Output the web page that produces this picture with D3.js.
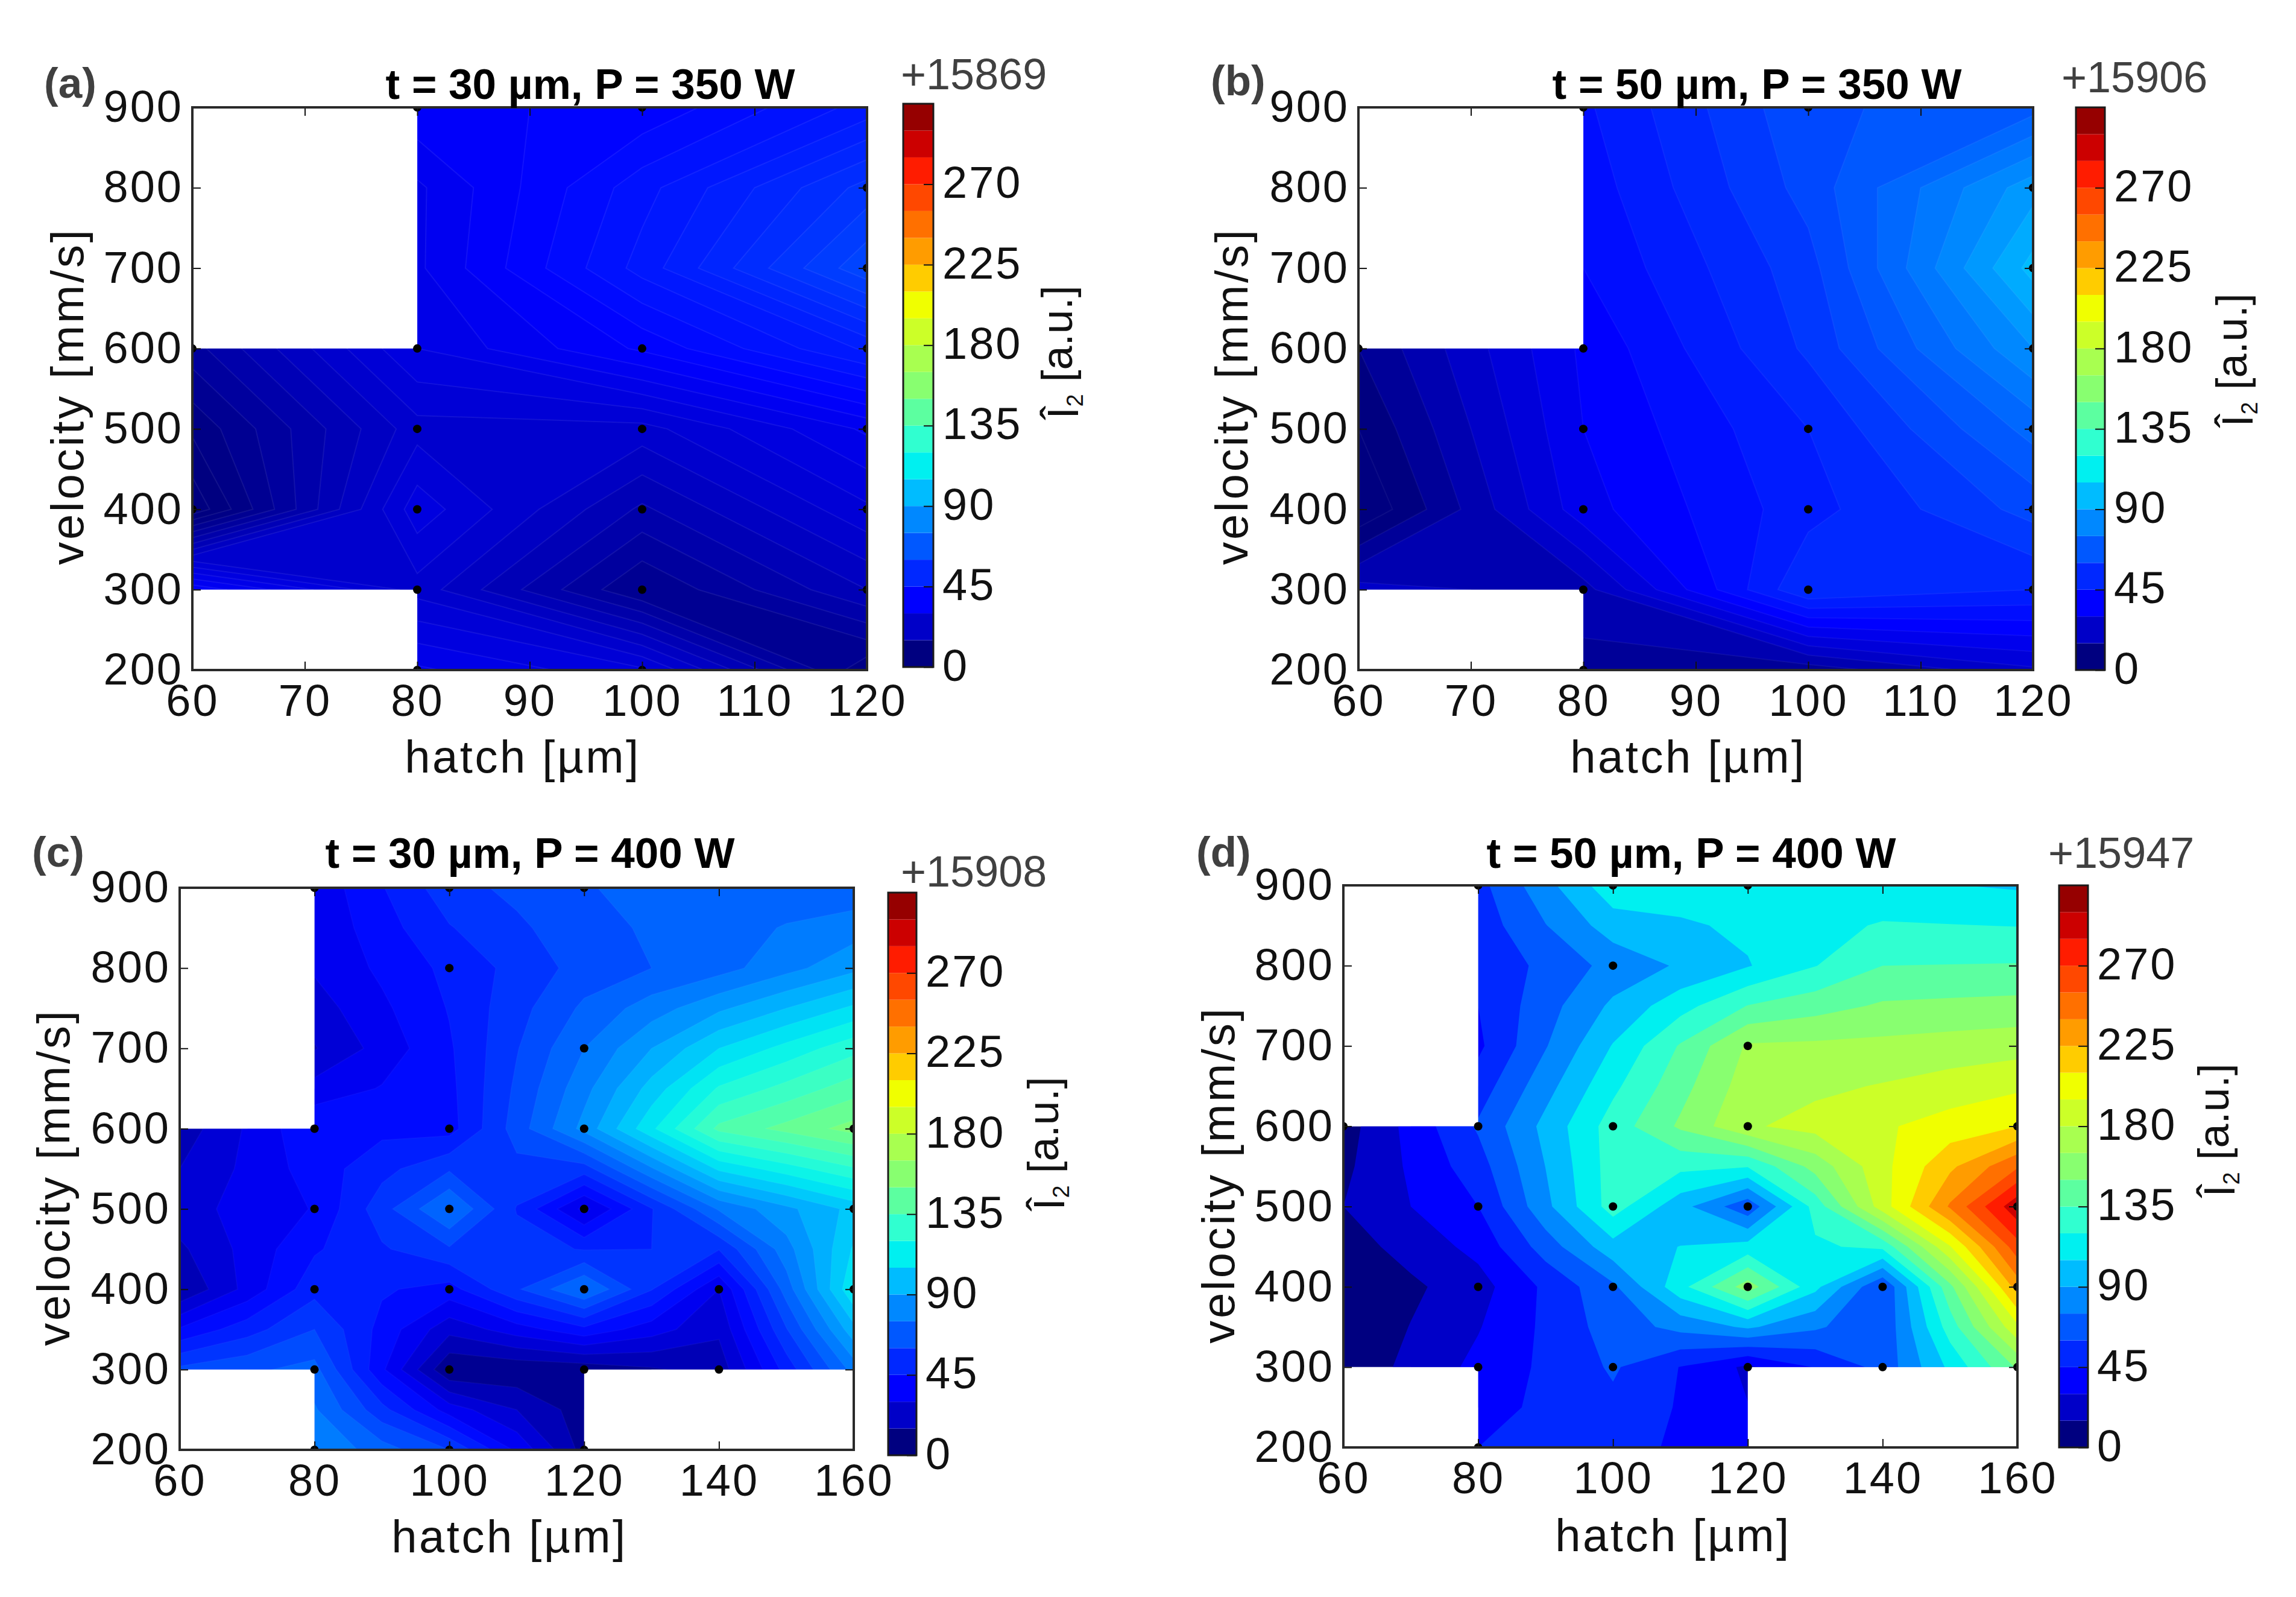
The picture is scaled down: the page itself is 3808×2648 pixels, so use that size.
<!DOCTYPE html>
<html>
<head>
<meta charset="utf-8">
<title>I2 contour maps</title>
<script src="https://cdn.jsdelivr.net/npm/d3@7"></script>
<style>
  html, body { margin: 0; background: #fff; }
  text { font-family: "Liberation Sans", Arial, sans-serif; }
</style>
</head>
<body>
<svg id="chart" width="3808" height="2648"></svg>
<script>
// --- Data ---
const velocities = [200, 300, 400, 500, 600, 700, 800, 900];
const hatchShort = [60, 80, 100, 120];
const hatchLong = [60, 80, 100, 120, 140, 160];

const xTicksShort = [60, 70, 80, 90, 100, 110, 120];
const xTicksLong = [60, 80, 100, 120, 140, 160];
const cbTicks = [0, 45, 90, 135, 180, 225, 270];

// rows go from 200 to 900 mm/s, columns follow the hatch list
const gridA = [
  [NaN, 33, 28, 8],
  [37, 24, 10, 20],
  [3, 29, 17, 27],
  [8, 24, 24, 33],
  [14, 30, 38, 48],
  [NaN, 32, 46, 62],
  [NaN, 32, 44, 56],
  [NaN, 37, 38, 46]
];
const gridB = [
  [NaN, 13, 12, 24],
  [22, 18, 55, 50],
  [0, 33, 48, 62],
  [5, 35, 50, 72],
  [10, 36, 56, 85],
  [NaN, 40, 58, 97],
  [NaN, 42, 62, 88],
  [NaN, 44, 64, 68]
];
const gridC = [
  [NaN, 82, 60, 12, NaN, NaN],
  [62, 70, 8, 10, 18, 78],
  [15, 50, 42, 76, 30, 112],
  [27, 38, 76, 28, 76, 100],
  [18, 44, 42, 85, 137, 153],
  [NaN, 22, 44, 75, 105, 125],
  [NaN, 31, 47, 63, 72, 88],
  [NaN, 32, 57, 67, 72, 70]
];
const gridD = [
  [NaN, 45, 51, 34, NaN, NaN],
  [4, 34, 62, 27, 65, 152],
  [0, 24, 72, 158, 60, 232],
  [15, 45, 127, 64, 188, 296],
  [8, 62, 127, 178, 193, 210],
  [NaN, 42, 106, 167, 169, 174],
  [NaN, 48, 80, 104, 135, 136],
  [NaN, 55, 115, 112, 108, 103]
];

// blank parts of the maps: hatch from, hatch to, velocity from, velocity to
const holesShort = [[60, 80, 600, 900], [60, 80, 200, 300]];
const holesLong = [[60, 80, 600, 900], [60, 80, 200, 300], [120, 160, 200, 300]];

// measurement points: hatch, velocity
const pointsA = [[80,900],[100,900],[120,800],[120,700],[120,600],[120,500],[120,400],[120,300],
  [80,600],[100,600],[80,500],[100,500],[80,400],[100,400],[80,300],[100,300],[80,200],[100,200],[60,600],[60,400]];
const pointsB = [[80,900],[100,900],[120,800],[120,700],[120,600],[120,500],[120,400],[120,300],
  [80,600],[80,500],[100,500],[80,400],[100,400],[80,300],[100,300],[80,200],[60,600]];
const pointsC = [[80,900],[100,900],[120,900],[100,800],[120,700],[80,600],[100,600],[120,600],[160,600],
  [80,500],[100,500],[120,500],[160,500],[80,400],[100,400],[120,400],[140,400],[160,400],
  [80,300],[100,300],[120,300],[140,300],[80,200],[100,200],[120,200]];
const pointsD = [[80,900],[100,900],[120,900],[100,800],[120,700],[80,600],[100,600],[120,600],[160,600],
  [80,500],[100,500],[120,500],[160,500],[80,400],[100,400],[120,400],[140,400],[160,400],
  [80,300],[100,300],[120,300],[140,300],[160,300],[80,200],[60,600]];

const panelNames = ["(a)", "(b)", "(c)", "(d)"];
const panelTitles = ["t = 30 µm, P = 350 W", "t = 50 µm, P = 350 W", "t = 30 µm, P = 400 W", "t = 50 µm, P = 400 W"];
const cbOffsets = ["+15869", "+15906", "+15908", "+15947"];

// 21 colorbar bands, 15 units each
const bandStep = 15;
const bandColors = ["#000080", "#0000c8", "#0000ff", "#0028ff", "#0058ff", "#0088ff", "#00bcff",
  "#00f0f0", "#30ffd0", "#5cffa0", "#88ff70", "#a8ff50", "#ccff28", "#f0ff00",
  "#ffcc00", "#ff9c00", "#ff7000", "#ff4800", "#ff1c00", "#cc0000", "#960000"];

// --- Page layout, one entry per panel ---
const layouts = [
  { ax: [319, 1438, 178, 1111], cb: [1498, 1548, 172, 1106], name: [73, 136], title: [979, 138], offset: [1494, 122], xLab: [867, 1254], yLab: [111, 657], cbLab: [1762, 584], step: 2.5, line: 0.07, saddles: false },
  { ax: [2253, 3372, 178, 1111], cb: [3443, 3491, 178, 1111], name: [2008, 132], title: [2914, 138], offset: [3419, 127], xLab: [2800, 1254], yLab: [2042, 657], cbLab: [3710, 597], step: 5, line: 0.05, saddles: false },
  { ax: [298, 1416, 1472, 2404], cb: [1473, 1520, 1480, 2413], name: [53, 1411], title: [879, 1413], offset: [1494, 1444], xLab: [845, 2547], yLab: [88, 1952], cbLab: [1739, 1896], step: 7.5, line: 0.03, saddles: true },
  { ax: [2228, 3346, 1468, 2400], cb: [3415, 3463, 1468, 2400], name: [1984, 1411], title: [2805, 1413], offset: [3397, 1413], xLab: [2775, 2545], yLab: [2020, 1948], cbLab: [3680, 1874], step: 15, line: 0, saddles: true }
];

const svg = d3.select("#chart");

// continuous lookup through the band centres, exact on a band centre
const bandColor = d3.scaleLinear()
  .domain(bandColors.map((c, i) => (i + 0.5) * bandStep))
  .range(bandColors)
  .clamp(true);

// doubles the grid so a cell centre takes the mean of its corners,
// d3.contours would otherwise settle every saddle the same way
function withCellCentres(grid) {
  const out = [];
  for (let r = 0; r < grid.length * 2 - 1; r++) {
    for (let c = 0; c < grid[0].length * 2 - 1; c++) {
      const rows = r % 2 ? [(r - 1) / 2, (r + 1) / 2] : [r / 2];
      const cols = c % 2 ? [(c - 1) / 2, (c + 1) / 2] : [c / 2];
      const corners = rows.flatMap(a => cols.map(b => grid[a][b]));
      out.push(corners.some(isNaN) ? NaN : d3.mean(corners));
    }
  }
  return out;
}

// --- One contour map with its colorbar ---
function drawPanel(i, grid, hatch, xTicks, holes, points) {
  const lay = layouts[i];
  const [x0, x1, y0, y1] = lay.ax;
  const x = d3.scaleLinear().domain([hatch[0], hatch[hatch.length - 1]]).range([x0, x1]);
  const y = d3.scaleLinear().domain([velocities[0], velocities[velocities.length - 1]]).range([y1, y0]);

  const g = svg.append("g");
  const clipId = "clip" + i;
  g.append("clipPath").attr("id", clipId)
    .append("rect")
    .attr("x", x0).attr("y", y0)
    .attr("width", x1 - x0).attr("height", y1 - y0);

  const plot = g.append("g").attr("clip-path", `url(#${clipId})`);

  // d3.contours puts sample k at k + 0.5, so map grid units back through the scales
  const scaleUp = lay.saddles ? 2 : 1;
  const dh = (hatch[1] - hatch[0]) / scaleUp;
  const dv = (velocities[1] - velocities[0]) / scaleUp;
  const path = d3.geoPath(d3.geoTransform({
    point(cx, cy) {
      this.stream.point(x(hatch[0] + (cx - 0.5) * dh), y(velocities[0] + (cy - 0.5) * dv));
    }
  }));

  const levels = d3.range(0, bandStep * bandColors.length, lay.step);
  const values = lay.saddles ? withCellCentres(grid) : grid.flat();
  const contours = d3.contours()
    .size([hatch.length * scaleUp - scaleUp + 1, velocities.length * scaleUp - scaleUp + 1])
    .smooth(true)
    .thresholds(levels)(values);

  plot.selectAll("path.band")
    .data(contours.filter(c => c.coordinates.length))
    .join("path")
    .attr("class", "band")
    .attr("d", path)
    .attr("fill", d => bandColor(d.value + lay.step / 2))
    .attr("stroke", lay.line ? "#fff" : "none")
    .attr("stroke-opacity", lay.line)
    .attr("stroke-width", 2);

  plot.selectAll("rect.hole")
    .data(holes)
    .join("rect")
    .attr("class", "hole")
    .attr("x", d => x(d[0]))
    .attr("y", d => y(d[3]))
    .attr("width", d => x(d[1]) - x(d[0]))
    .attr("height", d => y(d[2]) - y(d[3]))
    .attr("fill", "#fff");

  plot.selectAll("circle")
    .data(points)
    .join("circle")
    .attr("cx", d => x(d[0]))
    .attr("cy", d => y(d[1]))
    .attr("r", 7)
    .attr("fill", "#000");

  // --- Axes, ticks pointing inwards on all four sides ---
  const tickLen = 14;
  const styleAxis = a => {
    a.select(".domain").remove();
    a.selectAll("line").attr("stroke", "#111").attr("stroke-width", 2);
    a.selectAll("text")
      .attr("fill", "#111")
      .style("font-size", "74px")
      .style("letter-spacing", "3px");
  };

  g.append("g").attr("transform", `translate(0,${y1})`)
    .call(d3.axisBottom(x).tickValues(xTicks).tickSize(-tickLen).tickPadding(23))
    .call(styleAxis);
  g.append("g").attr("transform", `translate(${x0},0)`)
    .call(d3.axisLeft(y).tickValues(velocities).tickSize(-tickLen).tickPadding(15))
    .call(styleAxis);
  g.append("g").attr("transform", `translate(0,${y0})`)
    .call(d3.axisTop(x).tickValues(xTicks).tickSize(-tickLen).tickFormat(""))
    .call(styleAxis);
  g.append("g").attr("transform", `translate(${x1},0)`)
    .call(d3.axisRight(y).tickValues(velocities).tickSize(-tickLen).tickFormat(""))
    .call(styleAxis);

  g.append("rect")
    .attr("x", x0).attr("y", y0)
    .attr("width", x1 - x0).attr("height", y1 - y0)
    .attr("fill", "none")
    .attr("stroke", "#2a2a2a")
    .attr("stroke-width", 4);

  // --- Labels ---
  g.append("text")
    .attr("x", lay.name[0]).attr("y", lay.name[1])
    .attr("dy", "0.36em")
    .attr("fill", "#404040")
    .style("font-size", "71px").style("font-weight", "bold")
    .text(panelNames[i]);

  g.append("text")
    .attr("x", lay.title[0]).attr("y", lay.title[1])
    .attr("dy", "0.36em")
    .attr("text-anchor", "middle")
    .attr("fill", "#000")
    .style("font-size", "71px").style("font-weight", "bold")
    .text(panelTitles[i]);

  g.append("text")
    .attr("x", lay.xLab[0]).attr("y", lay.xLab[1])
    .attr("dy", "0.36em")
    .attr("text-anchor", "middle")
    .attr("fill", "#111")
    .style("font-size", "76px").style("letter-spacing", "3.5px")
    .text("hatch [µm]");

  g.append("text")
    .attr("transform", `translate(${lay.yLab[0]},${lay.yLab[1]}) rotate(-90)`)
    .attr("dy", "0.36em")
    .attr("text-anchor", "middle")
    .attr("fill", "#111")
    .style("font-size", "76px").style("letter-spacing", "3.8px")
    .text("velocity [mm/s]");

  // --- Colorbar ---
  const [cx0, cx1, cy0, cy1] = lay.cb;
  const cbScale = d3.scaleLinear().domain([0, bandStep * bandColors.length]).range([cy1, cy0]);

  g.selectAll("rect.cb")
    .data(bandColors)
    .join("rect")
    .attr("class", "cb")
    .attr("x", cx0)
    .attr("width", cx1 - cx0)
    .attr("y", (d, k) => cbScale((k + 1) * bandStep))
    .attr("height", (d, k) => cbScale(k * bandStep) - cbScale((k + 1) * bandStep))
    .attr("fill", d => d);

  const cbAxis = g.append("g").attr("transform", `translate(${cx1},0)`)
    .call(d3.axisRight(cbScale).tickValues(cbTicks).tickSize(-16).tickPadding(15));
  cbAxis.call(styleAxis);
  cbAxis.selectAll("text").attr("dy", "0.3em");

  g.append("rect")
    .attr("x", cx0).attr("y", cy0)
    .attr("width", cx1 - cx0).attr("height", cy1 - cy0)
    .attr("fill", "none")
    .attr("stroke", "#1a1a1a")
    .attr("stroke-width", 3);

  g.append("text")
    .attr("x", lay.offset[0]).attr("y", lay.offset[1])
    .attr("dy", "0.36em")
    .attr("fill", "#404040")
    .style("font-size", "72px")
    .text(cbOffsets[i]);

  const cbLabel = g.append("text")
    .attr("transform", `translate(${lay.cbLab[0]},${lay.cbLab[1]}) rotate(-90)`)
    .attr("dy", "0.36em")
    .attr("text-anchor", "middle")
    .attr("fill", "#111")
    .style("font-size", "72px");
  cbLabel.append("tspan").text("Î");
  cbLabel.append("tspan").attr("dy", "0.2em").style("font-size", "38px").text("2");
  cbLabel.append("tspan").attr("dy", "-0.25em").text(" [a.u.]");
}

drawPanel(0, gridA, hatchShort, xTicksShort, holesShort, pointsA);
drawPanel(1, gridB, hatchShort, xTicksShort, holesShort, pointsB);
drawPanel(2, gridC, hatchLong, xTicksLong, holesLong, pointsC);
drawPanel(3, gridD, hatchLong, xTicksLong, holesLong, pointsD);
</script>
</body>
</html>
